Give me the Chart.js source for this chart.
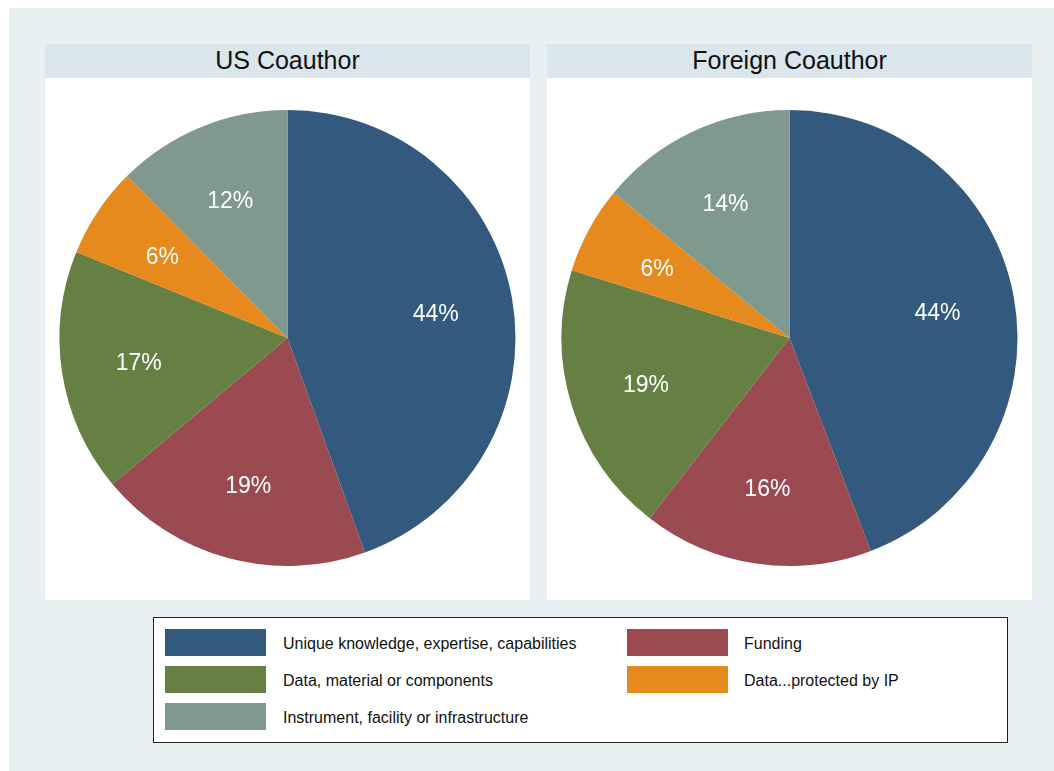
<!DOCTYPE html>
<html>
<head>
<meta charset="utf-8">
<script src="https://cdn.jsdelivr.net/npm/chart.js@4"></script>
<style>
    body { margin: 0; background: #ffffff; font-family: "Liberation Sans", Arial, sans-serif; }
    #bg { position: absolute; left: 9px; top: 8px; width: 1045px; height: 763px; background: #e8f0f2; }
    .panel { position: absolute; top: 44px; width: 485px; height: 556px; background: #ffffff; }
    .head { height: 34px; line-height: 33px; background: #d9e6eb; text-align: center; font-size: 25px; color: #111; }
    .panel canvas { display: block; }
    #legend { position: absolute; left: 153px; top: 617px; width: 853px; height: 124px; background: #fff; border: 1px solid #222; }
    .item { position: absolute; height: 27px; }
    .sw { position: absolute; left: 0; top: 0; width: 101px; height: 27px; }
    .lt { position: absolute; left: 118px; top: 1px; line-height: 27px; font-size: 16px; color: #111; white-space: nowrap; }
</style>
</head>
<body>
<div id="bg"></div>
<div class="panel" style="left:45px"><div class="head" id="t0"></div><div style="width:485px;height:522px"><canvas id="pie0"></canvas></div></div>
<div class="panel" style="left:547px"><div class="head" id="t1"></div><div style="width:485px;height:522px"><canvas id="pie1"></canvas></div></div>
<div id="legend"></div>
<script>
const panelTitles = ["US Coauthor", "Foreign Coauthor"];
const categories = ["Unique knowledge, expertise, capabilities", "Funding", "Data, material or components", "Data...protected by IP", "Instrument, facility or infrastructure"];
const usValues = [44.4, 19.4, 17.2, 6.4, 12.4];
const foreignValues = [44.2, 16.3, 19.3, 6.2, 14.0];
const colours = ["#335a7e", "#9a4a50", "#667f43", "#e68a1e", "#7f998e"];

// percent labels inside each slice
const sliceLabels = {
    id: 'sliceLabels',
    afterDatasetsDraw(chart) {
        const ctx = chart.ctx;
        const meta = chart.getDatasetMeta(0);
        ctx.save();
        ctx.fillStyle = '#ffffff';
        ctx.font = '23px "Liberation Sans", Arial, sans-serif';
        ctx.textAlign = 'center';
        ctx.textBaseline = 'middle';
        meta.data.forEach((arc, i) => {
            const p = arc.getProps(['x', 'y', 'startAngle', 'endAngle', 'outerRadius'], true);
            const mid = (p.startAngle + p.endAngle) / 2;
            const r = p.outerRadius * 0.66;
            const v = chart.data.datasets[0].data[i];
            ctx.fillText(Math.round(v) + '%', p.x + Math.cos(mid) * r, p.y + Math.sin(mid) * r + 3);
        });
        ctx.restore();
    }
};

function renderPie(canvasId, values) {
    const ctx = document.getElementById(canvasId).getContext('2d');
    new Chart(ctx, {
        type: 'pie',
        data: {
            labels: categories,
            datasets: [{ data: values, backgroundColor: colours, borderWidth: 0 }]
        },
        options: {
            responsive: true, maintainAspectRatio: false, animation: false,
            layout: { padding: { left: 14, right: 14, top: 32, bottom: 34 } },
            plugins: { legend: { display: false }, tooltip: { enabled: false } }
        },
        plugins: [sliceLabels]
    });
}

document.getElementById('t0').textContent = panelTitles[0];
document.getElementById('t1').textContent = panelTitles[1];
renderPie('pie0', usValues);
renderPie('pie1', foreignValues);

// legend: two columns, filled row by row
const legend = document.getElementById('legend');
categories.forEach((c, i) => {
    const col = i % 2, row = Math.floor(i / 2);
    const item = document.createElement('div');
    item.className = 'item';
    item.style.left = (col === 0 ? 11 : 473) + 'px';
    item.style.top = (11 + row * 37) + 'px';
    item.innerHTML = '<div class="sw" style="background:' + colours[i] + '"></div><div class="lt"></div>';
    item.querySelector('.lt').textContent = c;
    if (col === 1) item.querySelector('.lt').style.left = '117px';
    legend.appendChild(item);
});
</script>
</body>
</html>
